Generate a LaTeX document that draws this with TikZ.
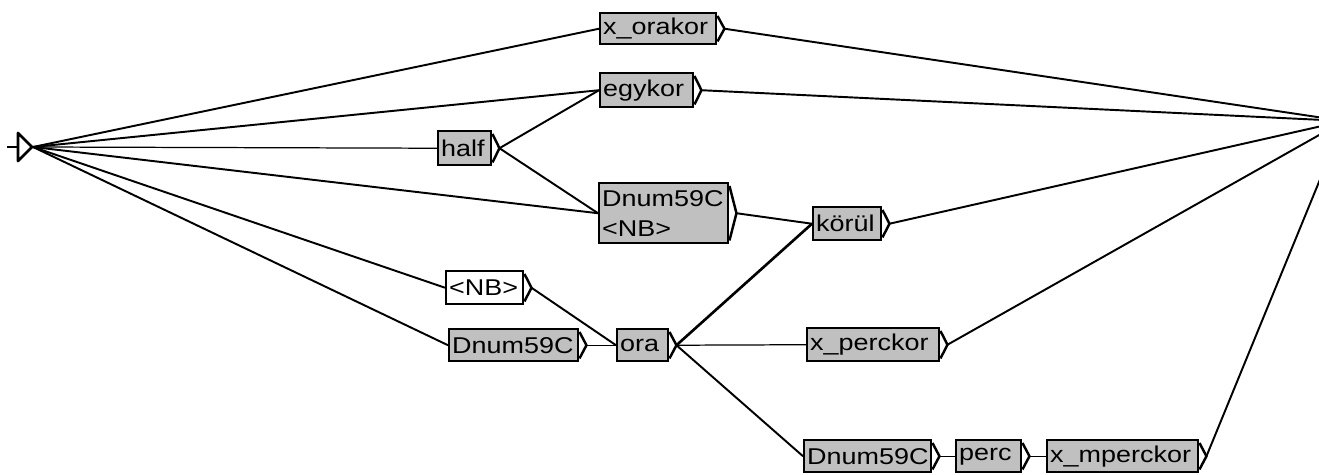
\documentclass[tikz,border=0pt]{standalone}
\usepackage{fontspec}
\usepackage{graphicx}
\newfontfamily\boxfont{Liberation Sans}
\usetikzlibrary{calc}
\newlength\px
\setlength\px{0.02cm}
\newcommand\sx[1]{\scalebox{1.18}[1]{#1}}
\definecolor{boxgray}{RGB}{192,192,192}
\tikzset{
  bx/.style={draw=black, fill=boxgray, line width=1.4pt, inner xsep=3\px, inner ysep=0pt,
    anchor=north west, align=left, font=\boxfont\fontsize{13}{17}\selectfont},
  wbx/.style={bx, fill=white},
  tipline/.style={line width=1.4pt, line join=round},
  edge/.style={line width=1.1pt},
  thinedge/.style={line width=0.7pt},
}
\newcommand\outp[1]{%
  \draw[tipline] ($(#1.north east)+(0,4)$) -- ($(#1.east)+(7,0)$) -- ($(#1.south east)+(0,-4)$);
  \coordinate (#1-o) at ($(#1.east)+(7,0)$);}
\begin{document}
\begin{tikzpicture}[x=0.02cm, y=-0.02cm]
\useasboundingbox (0,0) rectangle (1319,475);
\clip (0,0) rectangle (1319,475);
\fill[white] (0,0) rectangle (1319,475);
% initial and final states
\coordinate (stub) at (7,147);
\coordinate (init) at (33,147);
\draw[line width=1.2pt] (stub) -- (18,147);
\draw[line width=1.6pt, line join=round] (18,133) -- (32,147) -- (18,161) -- cycle;
\coordinate (fin) at (1344,121);
% boxes
\node[bx, text width=110\px, minimum height=31\px] (xo) at (599,12) {\sx{x\_orakor}};
\node[bx, text width=87\px, minimum height=34\px] (egy) at (599,72) {\sx{egykor}};
\node[bx, text width=47\px, minimum height=34\px] (half) at (437,130) {\sx{half}};
\node[bx, text width=123\px, minimum height=60\px] (dnb) at (598,182) {\sx{Dnum59C}\\\sx{<NB>}};
\node[bx, text width=62\px, minimum height=33\px] (kor) at (812,206) {\sx{körül}};
\node[wbx, text width=71\px, minimum height=33\px] (nb) at (445,270) {\sx{<NB>}};
\node[bx, text width=123\px, minimum height=32\px] (dm) at (448,328) {\sx{Dnum59C}};
\node[bx, text width=45\px, minimum height=32\px] (ora) at (616,328) {\sx{ora}};
\node[bx, text width=126\px, minimum height=33\px] (xp) at (806,327) {\sx{x\_perckor}};
\node[bx, text width=121\px, minimum height=32\px] (db) at (803,439) {\sx{Dnum59C}};
\node[bx, text width=59\px, minimum height=32\px] (perc) at (955,439) {\sx{perc}};
\node[bx, text width=145\px, minimum height=32\px] (xm) at (1046,439) {\sx{x\_mperckor}};
\foreach \n in {xo,egy,half,dnb,kor,nb,dm,ora,xp,db,perc,xm} {\outp{\n}}
% connectors
\draw[edge] (init) -- (xo.west);
\draw[edge] (init) -- (egy.west);
\draw[thinedge] (init) -- (half.west);
\draw[edge] (init) -- (dnb.west);
\draw[edge] (init) -- (nb.west);
\draw[edge] (init) -- (dm.west);
\draw[edge] (half-o) -- (egy.west);
\draw[edge] (half-o) -- (dnb.west);
\draw[edge] (xo-o) -- (fin);
\draw[edge] (egy-o) -- (fin);
\draw[edge] (dnb-o) -- (kor.west);
\draw[edge] (kor-o) -- (fin);
\draw[edge] (nb-o) -- (ora.west);
\draw[thinedge] (dm-o) -- (ora.west);
\draw[line width=1.5pt] (ora-o) -- (kor.west);
\draw[thinedge] (ora-o) -- (xp.west);
\draw[edge] (ora-o) -- (db.west);
\draw[edge] (xp-o) -- (fin);
\draw[thinedge] (db-o) -- (perc.west);
\draw[thinedge] (perc-o) -- (xm.west);
\draw[edge] (xm-o) -- (fin);
\end{tikzpicture}
\end{document}
